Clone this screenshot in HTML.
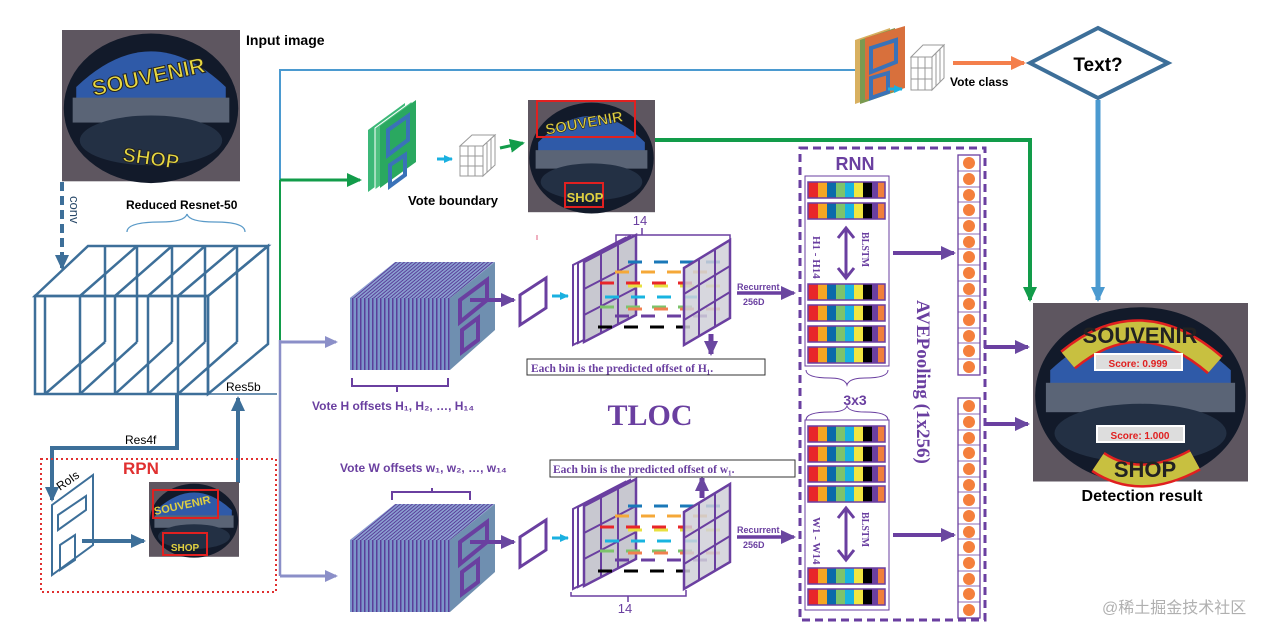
<!DOCTYPE html>
<html><head><meta charset="utf-8"><style>
html,body{margin:0;padding:0;background:#fff;}
svg{display:block;font-family:"Liberation Sans",sans-serif;}
</style></head><body>
<svg width="1282" height="636" viewBox="0 0 1282 636" xmlns="http://www.w3.org/2000/svg">
<defs>
<marker id="ab" markerWidth="16" markerHeight="16" refX="13" refY="8" orient="auto" markerUnits="userSpaceOnUse"><path d="M0,1L15,8L0,15z" fill="#3d6f99"/></marker>
<marker id="ag" markerWidth="16" markerHeight="16" refX="13" refY="8" orient="auto" markerUnits="userSpaceOnUse"><path d="M0,1L15,8L0,15z" fill="#129c4a"/></marker>
<marker id="ap" markerWidth="16" markerHeight="16" refX="13" refY="8" orient="auto" markerUnits="userSpaceOnUse"><path d="M0,1L15,8L0,15z" fill="#6a47a0"/></marker>
<marker id="al" markerWidth="14" markerHeight="14" refX="11" refY="7" orient="auto" markerUnits="userSpaceOnUse"><path d="M0,1L13,7L0,13z" fill="#8b8fc8"/></marker>
<marker id="ak" markerWidth="16" markerHeight="16" refX="13" refY="8" orient="auto" markerUnits="userSpaceOnUse"><path d="M0,1L15,8L0,15z" fill="#4b9ad0"/></marker>
<marker id="as" markerWidth="10" markerHeight="10" refX="8" refY="5" orient="auto" markerUnits="userSpaceOnUse"><path d="M0,1L9,5L0,9z" fill="#1ab0e0"/></marker>
<marker id="ao" markerWidth="16" markerHeight="16" refX="13" refY="8" orient="auto" markerUnits="userSpaceOnUse"><path d="M0,1L15,8L0,15z" fill="#f47f4c"/></marker>
<pattern id="stripe" width="4" height="10" patternUnits="userSpaceOnUse"><rect width="4" height="10" fill="#7c95c9"/><rect width="1.5" height="10" fill="#5a3f9a"/></pattern>
<pattern id="stripe2" width="4" height="4" patternUnits="userSpaceOnUse" patternTransform="skewX(-50)"><rect width="4" height="4" fill="#8a9fd0"/><rect width="1.5" height="4" fill="#5a3f9a"/></pattern>
<g id="photo">
<rect x="0" y="0" width="100" height="85" fill="#5e5660"/>
<ellipse cx="50" cy="44" rx="49" ry="42" fill="#121a2a"/>
<path d="M8,32 Q50,-8 92,32 L92,40 L8,40z" fill="#2f5aa8"/>
<rect x="6" y="38" width="88" height="14" fill="#5a6476"/>
<ellipse cx="50" cy="62" rx="40" ry="14" fill="#233044"/>
</g>
<g id="bars">
<rect x="0" y="0" width="10" height="16" fill="#e8262a"/><rect x="10" y="0" width="9" height="16" fill="#f5a623"/><rect x="19" y="0" width="9" height="16" fill="#0a6aaa"/><rect x="28" y="0" width="9" height="16" fill="#7dc36b"/><rect x="37" y="0" width="9" height="16" fill="#18b4e0"/><rect x="46" y="0" width="9" height="16" fill="#f0e640"/><rect x="55" y="0" width="9" height="16" fill="#000"/><rect x="64" y="0" width="6" height="16" fill="#6b3fa0"/><rect x="70" y="0" width="7" height="16" fill="#f07f3c"/>
<rect x="0" y="0" width="77" height="16" fill="none" stroke="#6b3fa0" stroke-width="1.5"/>
</g>
<g id="dots">
<rect x="0" y="0" width="22" height="220" fill="#fff" stroke="#6b3fa0" stroke-width="1.3"/>
<g fill="#f47f3c">
<circle cx="11" cy="8" r="6"/><circle cx="11" cy="24" r="6"/><circle cx="11" cy="40" r="6"/><circle cx="11" cy="55" r="6"/><circle cx="11" cy="71" r="6"/><circle cx="11" cy="87" r="6"/><circle cx="11" cy="102" r="6"/><circle cx="11" cy="118" r="6"/><circle cx="11" cy="134" r="6"/><circle cx="11" cy="149" r="6"/><circle cx="11" cy="165" r="6"/><circle cx="11" cy="181" r="6"/><circle cx="11" cy="196" r="6"/><circle cx="11" cy="212" r="6"/></g>
<g stroke="#6b3fa0" stroke-width="0.8"><path d="M0,16H22M0,32H22M0,47H22M0,63H22M0,79H22M0,94H22M0,110H22M0,126H22M0,141H22M0,157H22M0,173H22M0,188H22M0,204H22"/></g>
</g>
<g id="cube">
<rect x="350" y="298" width="100" height="72" fill="url(#stripe)"/>
<polygon points="350,298 395,262 495,262 450,298" fill="url(#stripe2)"/>
<polygon points="450,298 495,262 495,330 450,370" fill="#6f8fb0"/>
<polygon points="460,300 487,280 487,300 460,322" fill="none" stroke="#6a3fa0" stroke-width="4"/>
<polygon points="462,330 478,318 478,340 462,352" fill="none" stroke="#6a3fa0" stroke-width="4"/>
<line x1="470" y1="300" x2="514" y2="300" stroke="#6a3fa0" stroke-width="4" marker-end="url(#ap)"/>
<polygon points="520,295 546,278 546,308 520,325" fill="#fff" stroke="#6a3fa0" stroke-width="3"/>
<line x1="552" y1="296" x2="568" y2="296" stroke="#1ab0e0" stroke-width="3" marker-end="url(#as)"/>
</g>
<g id="grid">
<polygon points="573,265 625,238 625,318 573,345" fill="#fff" stroke="#6a3fa0" stroke-width="2"/>
<polygon points="578,263 630,236 630,316 578,343" fill="#fff" stroke="#6a3fa0" stroke-width="2"/>
<polygon points="584,262 636,235 636,315 584,342" fill="#c8c8d0" stroke="#6a3fa0" stroke-width="2.5"/>
<path d="M601,253V333M618,244V324M584,289L636,262M584,315L636,288" stroke="#6a3fa0" stroke-width="2"/>
<g stroke-width="3" stroke-dasharray="14,12">
<line x1="628" y1="262" x2="720" y2="262" stroke="#1a78b8"/>
<line x1="615" y1="272" x2="710" y2="272" stroke="#f5a838"/>
<line x1="600" y1="283" x2="700" y2="283" stroke="#e8262a"/>
<line x1="628" y1="286" x2="720" y2="286" stroke="#e8e040"/>
<line x1="605" y1="297" x2="705" y2="297" stroke="#18b4e0"/>
<line x1="600" y1="307" x2="700" y2="307" stroke="#7dc36b"/>
<line x1="628" y1="309" x2="720" y2="309" stroke="#f08050"/>
<line x1="615" y1="316" x2="708" y2="316" stroke="#6a3fa0"/>
<line x1="598" y1="327" x2="690" y2="327" stroke="#000"/>
</g>
<polygon points="684,268 730,240 730,318 684,345" fill="#d0d0d8" fill-opacity="0.85" stroke="#6a3fa0" stroke-width="2.5"/>
<path d="M699,259V336M715,250V327M684,294L730,266M684,320L730,292" stroke="#6a3fa0" stroke-width="2"/>
</g>
</defs>

<!-- input image -->
<g transform="translate(62,30) scale(1.78)"><use href="#photo"/></g>
<text x="150" y="84" font-size="22" font-weight="bold" fill="#e8d840" stroke="#222" stroke-width="1" transform="rotate(-12 150 84)" text-anchor="middle">SOUVENIR</text>
<text x="150" y="165" font-size="20" font-weight="bold" fill="#e8d840" stroke="#222" stroke-width="1" text-anchor="middle" transform="rotate(8 150 165)">SHOP</text>
<text x="246" y="45" font-size="14" font-weight="bold">Input  image</text>

<line x1="62" y1="182" x2="62" y2="268" stroke="#3d6f99" stroke-width="4" stroke-dasharray="9,5" marker-end="url(#ab)"/>
<text x="70" y="196" font-size="13" fill="#2a4a6a" transform="rotate(90 70 196)">conv</text>
<text x="126" y="209" font-size="12" font-weight="bold">Reduced Resnet-50</text>
<path d="M127,232 Q127,222 160,222 Q185,222 187,214 Q189,222 215,222 Q245,222 245,232" fill="none" stroke="#5a9ac8" stroke-width="1.3"/>

<!-- resnet -->
<g fill="none" stroke="#3d6f99" stroke-width="2.5">
<polygon points="35,296 88,246 268,246 208,296"/>
<rect x="35" y="296" width="173" height="98"/>
<line x1="45" y1="296" x2="45" y2="394"/><line x1="80" y1="296" x2="80" y2="394"/><line x1="115" y1="296" x2="115" y2="394"/><line x1="148" y1="296" x2="148" y2="394"/><line x1="178" y1="296" x2="178" y2="394"/>
<line x1="80" y1="296" x2="137" y2="246"/><line x1="115" y1="296" x2="172" y2="246"/><line x1="148" y1="296" x2="205" y2="246"/><line x1="178" y1="296" x2="237" y2="246"/>
<line x1="45" y1="394" x2="105" y2="342"/><line x1="80" y1="394" x2="137" y2="342"/><line x1="115" y1="394" x2="172" y2="342"/><line x1="148" y1="394" x2="205" y2="342"/><line x1="178" y1="394" x2="237" y2="342"/>
<line x1="105" y1="246" x2="105" y2="342"/><line x1="137" y1="246" x2="137" y2="342"/><line x1="172" y1="246" x2="172" y2="342"/><line x1="205" y1="246" x2="205" y2="342"/><line x1="237" y1="246" x2="237" y2="342"/>
<polygon points="208,296 268,246 268,344 208,394"/>
</g>
<line x1="208" y1="394" x2="277" y2="394" stroke="#3d6f99" stroke-width="1.5"/>
<text x="226" y="391" font-size="12">Res5b</text>
<polyline points="177,394 177,448 52,448 52,500" fill="none" stroke="#3d6f99" stroke-width="4" marker-end="url(#ab)"/>
<text x="125" y="444" font-size="12">Res4f</text>
<line x1="238" y1="483" x2="238" y2="398" stroke="#3d6f99" stroke-width="4" marker-end="url(#ab)"/>

<rect x="41" y="459" width="235" height="133" fill="none" stroke="#e03030" stroke-width="2" stroke-dasharray="2,3"/>
<text x="123" y="474" font-size="17" font-weight="bold" fill="#e03030">RPN</text>
<text x="60" y="491" font-size="12" transform="rotate(-35 60 491)">RoIs</text>
<polygon points="52,505 93,475 93,545 52,575" fill="#fff" stroke="#3d6f99" stroke-width="2"/>
<polygon points="58,515 86,496 86,510 58,530" fill="none" stroke="#3d6f99" stroke-width="2"/>
<polygon points="60,545 75,535 75,560 60,570" fill="none" stroke="#3d6f99" stroke-width="2"/>
<line x1="82" y1="541" x2="144" y2="541" stroke="#3d6f99" stroke-width="4" marker-end="url(#ab)"/>
<g transform="translate(149,482) scale(0.9,0.88)"><use href="#photo"/></g>
<rect x="153" y="490" width="65" height="28" fill="none" stroke="#e02020" stroke-width="2"/>
<rect x="163" y="533" width="44" height="22" fill="none" stroke="#e02020" stroke-width="2"/>
<text x="183" y="509" font-size="11" font-weight="bold" fill="#e0d040" transform="rotate(-12 183 509)" text-anchor="middle">SOUVENIR</text>
<text x="185" y="551" font-size="10" font-weight="bold" fill="#e0d040" text-anchor="middle">SHOP</text>

<!-- trunk lines -->
<polyline points="280,180 280,70 855,70" fill="none" stroke="#4b9ad0" stroke-width="2"/>
<polyline points="280,180 280,340" fill="none" stroke="#129c4a" stroke-width="2"/>
<line x1="280" y1="180" x2="360" y2="180" stroke="#129c4a" stroke-width="3" marker-end="url(#ag)"/>
<polyline points="280,340 280,576" fill="none" stroke="#8b8fc8" stroke-width="2.5"/>
<line x1="280" y1="342" x2="336" y2="342" stroke="#8b8fc8" stroke-width="3" marker-end="url(#al)"/>
<line x1="280" y1="576" x2="336" y2="576" stroke="#8b8fc8" stroke-width="3" marker-end="url(#al)"/>

<!-- vote boundary -->
<polygon points="368,130 405,103 405,165 368,192" fill="#3cb878"/>
<polygon points="375,128 412,101 412,163 375,190" fill="#4ec080" stroke="#fff" stroke-width="1"/>
<polygon points="380,126 416,100 416,162 380,188" fill="#2aa860"/>
<polygon points="388,130 408,116 408,140 388,155" fill="none" stroke="#3a72b8" stroke-width="4"/>
<polygon points="390,165 405,155 405,175 390,186" fill="none" stroke="#3a72b8" stroke-width="4"/>
<line x1="437" y1="159" x2="452" y2="159" stroke="#1ab0e0" stroke-width="3" marker-end="url(#as)"/>
<g fill="#fff" stroke="#999" stroke-width="1"><polygon points="460,146 472,135 495,135 483,146"/><polygon points="483,146 495,135 495,165 483,176"/><rect x="460" y="146" width="23" height="30"/><path d="M468,146V176M475,146V176M460,156H483M460,166H483M487,143V172M491,139V169" fill="none"/></g>
<line x1="500" y1="148" x2="523" y2="143" stroke="#129c4a" stroke-width="3" marker-end="url(#ag)"/>
<g transform="translate(528,100) scale(1.27,1.32)"><use href="#photo"/></g>
<rect x="537" y="101" width="98" height="36" fill="none" stroke="#e02020" stroke-width="2"/>
<rect x="565" y="183" width="38" height="24" fill="none" stroke="#e02020" stroke-width="2"/>
<text x="585" y="128" font-size="15" font-weight="bold" fill="#e0d040" stroke="#222" stroke-width="0.6" text-anchor="middle" transform="rotate(-10 585 128)">SOUVENIR</text>
<text x="585" y="202" font-size="13" font-weight="bold" fill="#e0d040" text-anchor="middle">SHOP</text>
<text x="408" y="205" font-size="13" font-weight="bold">Vote boundary</text>
<polyline points="655,140 1030,140 1030,300" fill="none" stroke="#129c4a" stroke-width="4" marker-end="url(#ag)"/>

<!-- vote class -->
<polygon points="855,40 890,28 890,92 855,104" fill="#d8b060"/>
<polygon points="860,40 895,28 895,92 860,104" fill="#7a9a50"/>
<polygon points="865,38 905,26 905,88 865,100" fill="#d8703c"/>
<polygon points="871,48 896,40 896,62 871,72" fill="none" stroke="#3a72b8" stroke-width="4"/>
<polygon points="871,78 888,73 888,92 871,98" fill="none" stroke="#3a72b8" stroke-width="4"/>
<line x1="888" y1="89" x2="902" y2="89" stroke="#1ab0e0" stroke-width="3" marker-end="url(#as)"/>
<g fill="#fff" stroke="#999" stroke-width="1"><polygon points="911,57 923,45 944,45 932,57"/><polygon points="932,57 944,45 944,78 932,90"/><rect x="911" y="57" width="21" height="33"/><path d="M918,57V90M925,57V90M911,68H932M911,79H932M936,53V86M940,49V82" fill="none"/></g>
<text x="950" y="86" font-size="12" font-weight="bold">Vote class</text>
<line x1="953" y1="63" x2="1024" y2="63" stroke="#f47f4c" stroke-width="4" marker-end="url(#ao)"/>
<polygon points="1030,63 1098,28 1168,63 1098,98" fill="#fff" stroke="#3d6f99" stroke-width="4"/>
<text x="1098" y="71" font-size="19" font-weight="bold" text-anchor="middle">Text?</text>
<line x1="1098" y1="100" x2="1098" y2="300" stroke="#4b9ad0" stroke-width="5" marker-end="url(#ak)"/>

<!-- TLOC mid -->
<use href="#cube"/>
<path d="M352,378 V386 H397 V392 M397,386 H448 V378" fill="none" stroke="#6a3fa0" stroke-width="2"/>
<text x="312" y="410" font-size="12" font-weight="bold" fill="#6a3fa0">Vote H offsets H₁, H₂, …, H₁₄</text>
<line x1="537" y1="235" x2="537" y2="240" stroke="#e06080" stroke-width="1"/>
<use href="#grid"/>
<path d="M616,244 V235 H642 V228 M642,235 H730 V244" fill="none" stroke="#6a3fa0" stroke-width="1.5"/>
<text x="640" y="225" font-size="13" fill="#6a3fa0" text-anchor="middle">14</text>
<line x1="711" y1="334" x2="711" y2="354" stroke="#6a3fa0" stroke-width="5" marker-end="url(#ap)"/>
<rect x="527" y="359" width="238" height="16" fill="#fff" stroke="#333" stroke-width="1"/>
<text x="531" y="372" font-size="11.5" font-weight="bold" fill="#6a3fa0" font-family="Liberation Serif,serif">Each bin is the predicted offset of H₁.</text>
<text x="737" y="290" font-size="9" font-weight="bold" fill="#6a3fa0">Recurrent</text>
<text x="743" y="305" font-size="9" font-weight="bold" fill="#6a3fa0">256D</text>
<line x1="737" y1="293" x2="794" y2="293" stroke="#6a3fa0" stroke-width="3.5" marker-end="url(#ap)"/>

<text x="650" y="425" font-size="30" font-weight="bold" fill="#6a3fa0" font-family="Liberation Serif,serif" text-anchor="middle">TLOC</text>

<!-- bottom -->
<g transform="translate(0,242)"><use href="#cube"/></g>
<path d="M392,500 V492 H432 V488 M432,492 H470 V500" fill="none" stroke="#6a3fa0" stroke-width="2"/>
<text x="340" y="472" font-size="12" font-weight="bold" fill="#6a3fa0">Vote W offsets w₁, w₂, …, w₁₄</text>
<g transform="translate(0,244)"><use href="#grid"/></g>
<path d="M571,592 V596 H628 V602 M628,596 H686 V590" fill="none" stroke="#6a3fa0" stroke-width="1.5"/>
<text x="625" y="613" font-size="13" fill="#6a3fa0" text-anchor="middle">14</text>
<line x1="702" y1="498" x2="702" y2="478" stroke="#6a3fa0" stroke-width="5" marker-end="url(#ap)"/>
<rect x="550" y="460" width="245" height="17" fill="#fff" stroke="#333" stroke-width="1"/>
<text x="553" y="473" font-size="11.5" font-weight="bold" fill="#6a3fa0" font-family="Liberation Serif,serif">Each bin is the predicted offset of w₁.</text>
<text x="737" y="533" font-size="9" font-weight="bold" fill="#6a3fa0">Recurrent</text>
<text x="743" y="548" font-size="9" font-weight="bold" fill="#6a3fa0">256D</text>
<line x1="737" y1="537" x2="794" y2="537" stroke="#6a3fa0" stroke-width="3.5" marker-end="url(#ap)"/>

<!-- RNN -->
<rect x="800" y="148" width="185" height="472" fill="none" stroke="#6a3fa0" stroke-width="3" stroke-dasharray="8,5"/>
<text x="855" y="170" font-size="18" font-weight="bold" fill="#6a3fa0" text-anchor="middle">RNN</text>
<rect x="805" y="176" width="84" height="190" fill="#fff" stroke="#6a3fa0" stroke-width="1"/>
<use href="#bars" transform="translate(808,182)"/><use href="#bars" transform="translate(808,203)"/>
<use href="#bars" transform="translate(808,284)"/><use href="#bars" transform="translate(808,305)"/><use href="#bars" transform="translate(808,326)"/><use href="#bars" transform="translate(808,347)"/>
<line x1="846" y1="230" x2="846" y2="277" stroke="#6a3fa0" stroke-width="3"/>
<path d="M838,238 L846,228 L854,238 M838,268 L846,278 L854,268" fill="none" stroke="#6a3fa0" stroke-width="3"/>
<text x="813" y="236" font-size="11" font-weight="bold" fill="#6a3fa0" font-family="Liberation Serif,serif" transform="rotate(90 813 236)">H1 - H14</text>
<text x="862" y="232" font-size="10" font-weight="bold" fill="#6a3fa0" font-family="Liberation Serif,serif" transform="rotate(90 862 232)">BLSTM</text>
<path d="M806,370 Q806,378 830,378 Q845,378 847,385 Q849,378 865,378 Q888,378 888,370" fill="none" stroke="#6a3fa0" stroke-width="1"/>
<text x="855" y="405" font-size="14" font-weight="bold" fill="#6a3fa0" text-anchor="middle">3x3</text>
<path d="M806,420 Q806,412 830,412 Q845,412 847,406 Q849,412 865,412 Q888,412 888,420" fill="none" stroke="#6a3fa0" stroke-width="1"/>
<rect x="805" y="420" width="84" height="190" fill="#fff" stroke="#6a3fa0" stroke-width="1"/>
<use href="#bars" transform="translate(808,426)"/><use href="#bars" transform="translate(808,446)"/><use href="#bars" transform="translate(808,466)"/><use href="#bars" transform="translate(808,486)"/>
<use href="#bars" transform="translate(808,568)"/><use href="#bars" transform="translate(808,589)"/>
<line x1="846" y1="510" x2="846" y2="558" stroke="#6a3fa0" stroke-width="3"/>
<path d="M838,518 L846,508 L854,518 M838,550 L846,560 L854,550" fill="none" stroke="#6a3fa0" stroke-width="3"/>
<text x="813" y="517" font-size="11" font-weight="bold" fill="#6a3fa0" font-family="Liberation Serif,serif" transform="rotate(90 813 517)">W1 - W14</text>
<text x="862" y="512" font-size="10" font-weight="bold" fill="#6a3fa0" font-family="Liberation Serif,serif" transform="rotate(90 862 512)">BLSTM</text>
<use href="#dots" transform="translate(958,155)"/>
<use href="#dots" transform="translate(958,398)"/>
<text x="917" y="300" font-size="19" font-weight="bold" fill="#6a3fa0" font-family="Liberation Serif,serif" transform="rotate(90 917 300)">AVEPooling (1x256)</text>
<line x1="893" y1="253" x2="954" y2="253" stroke="#6a3fa0" stroke-width="4" marker-end="url(#ap)"/>
<line x1="893" y1="535" x2="954" y2="535" stroke="#6a3fa0" stroke-width="4" marker-end="url(#ap)"/>
<line x1="984" y1="347" x2="1028" y2="347" stroke="#6a3fa0" stroke-width="4" marker-end="url(#ap)"/>
<line x1="984" y1="424" x2="1028" y2="424" stroke="#6a3fa0" stroke-width="4" marker-end="url(#ap)"/>

<!-- result -->
<g transform="translate(1033,303) scale(2.15,2.1)"><use href="#photo"/></g>
<path d="M1068,360 Q1140,300 1215,365" fill="none" stroke="#e02020" stroke-width="24"/>
<path d="M1068,360 Q1140,300 1215,365" fill="none" stroke="#c8c040" stroke-width="19"/>
<text x="1140" y="343" font-size="22" font-weight="bold" fill="#222" text-anchor="middle">SOUVENIR</text>
<path d="M1098,462 Q1140,490 1195,460" fill="none" stroke="#e02020" stroke-width="24"/>
<path d="M1098,462 Q1140,490 1195,460" fill="none" stroke="#c8c040" stroke-width="19"/>
<text x="1145" y="477" font-size="22" font-weight="bold" fill="#222" text-anchor="middle">SHOP</text>
<rect x="1095" y="354" width="87" height="16" fill="#ddd" stroke="#fff" stroke-width="2"/>
<text x="1138" y="367" font-size="10" font-weight="bold" fill="#e02020" text-anchor="middle">Score: 0.999</text>
<rect x="1097" y="426" width="87" height="16" fill="#ddd" stroke="#fff" stroke-width="2"/>
<text x="1140" y="439" font-size="10" font-weight="bold" fill="#e02020" text-anchor="middle">Score: 1.000</text>
<text x="1142" y="501" font-size="16" font-weight="bold" text-anchor="middle">Detection result</text>

<text x="1102" y="613" font-size="16" fill="#b0b0b0" font-family="Liberation Sans,Noto Sans CJK SC,sans-serif">@稀土掘金技术社区</text>
</svg>
</body></html>
